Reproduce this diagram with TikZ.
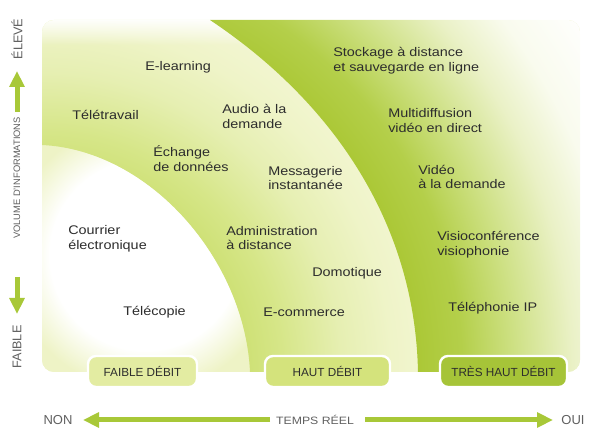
\documentclass[tikz,border=0pt]{standalone}
\usepackage{fontspec}
\setmainfont{Liberation Sans}
\newfontfamily\wide[FakeStretch=1.15]{Liberation Sans}
\usetikzlibrary{arrows.meta,fadings}

% palette
\definecolor{ink}{RGB}{45,45,45}
\definecolor{axisink}{RGB}{95,95,95}
\definecolor{paleyel}{RGB}{238,243,198}
\definecolor{arrowgreen}{RGB}{168,200,56}
\definecolor{tabF}{RGB}{227,236,162}
\definecolor{tabH}{RGB}{212,227,124}
\definecolor{tabT}{RGB}{166,196,56}
% very high bandwidth zone
\definecolor{thA}{RGB}{170,199,52}
\definecolor{thB}{RGB}{180,207,74}
\definecolor{thC}{RGB}{205,224,130}
\definecolor{thD}{RGB}{234,241,198}
\definecolor{thE}{RGB}{249,251,238}
% high bandwidth band
\definecolor{hbA}{RGB}{205,224,115}
\definecolor{hbB}{RGB}{214,230,136}
\definecolor{hbC}{RGB}{230,239,178}
\definecolor{hbD}{RGB}{239,244,200}
\definecolor{hbE}{RGB}{243,246,212}

% radial shadings: the shaded circle's radius corresponds to 25bp
\pgfdeclareradialshading{thdshade}{\pgfpoint{0bp}{0bp}}{%
  color(0bp)=(thA); color(14.25bp)=(thA); color(16.15bp)=(thB);
  color(18.1bp)=(thC); color(20.4bp)=(thD); color(22.3bp)=(thE);
  color(25bp)=(white); color(50bp)=(white)}
\pgfdeclareradialshading{hdshade}{\pgfpoint{0bp}{0bp}}{%
  color(0bp)=(hbA); color(12.5bp)=(hbA); color(15bp)=(hbB);
  color(18.75bp)=(hbC); color(21.9bp)=(hbD); color(25bp)=(hbE);
  color(50bp)=(hbE)}
\pgfdeclareradialshading{blob}{\pgfpoint{0bp}{0bp}}{%
  color(0bp)=(white); color(14bp)=(white); color(20bp)=(paleyel);
  color(50bp)=(paleyel)}

\begin{document}
\begin{tikzpicture}[x=0.75pt,y=-0.75pt,
  lbl/.style={font=\wide\fontsize{9.4pt}{10.9pt}\selectfont, text=ink,
    align=left, anchor=west, inner sep=0pt},
  tabbox/.style={draw=white, line width=1.8pt, rounded corners=6pt,
    minimum height=23.25pt, inner sep=0pt, text=ink,
    font=\fontsize{8.8pt}{10pt}\selectfont},
  axlbl/.style={text=axisink, inner sep=0pt},
  axarrow/.style={draw=arrowgreen, line width=3.75pt,
    -{Triangle[width=11pt,length=12pt,fill=arrowgreen]}}
]
\useasboundingbox (0,0) rectangle (593,434);

% ---- background zones ----
\begin{scope}
  \clip[rounded corners=9pt] (42,20) rectangle (580,372);
  % low bandwidth zone
  \fill[paleyel] (42,20) rectangle (580,372);
  \begin{scope}
    \clip (42,145) .. controls (150,150) and (245,260) .. (250,372)
      -- (42,372) -- cycle;
    \shade[shading=blob] (145,255) circle (170);
  \end{scope}
  % high bandwidth band
  \begin{scope}
    \clip (42,20) -- (210,20) .. controls (330,100) and (415,220) .. (418,372)
      -- (250,372) .. controls (245,260) and (150,150) .. (42,145) -- cycle;
    \shade[shading=hdshade] (42,372) circle (400);
    \fill[white, path fading=south] (42,18) rectangle (420,45);
  \end{scope}
  % very high bandwidth zone
  \begin{scope}
    \clip (210,20) .. controls (330,100) and (415,220) .. (418,372)
      -- (600,372) -- (600,20) -- cycle;
    \shade[shading=thdshade] (42,372) circle (650);
  \end{scope}
\end{scope}

% ---- services ----
\node[lbl] (stock) at (333,60.5) {Stockage à distance\\et sauvegarde en ligne};
\node[lbl] (elearn) at (145,67) {E-learning};
\node[lbl] (teletr) at (72,115) {Télétravail};
\node[lbl] (audio) at (222,116.5) {Audio à la\\demande};
\node[lbl] (multi) at (388,120.5) {Multidiffusion\\vidéo en direct};
\node[lbl] (echange) at (153,158.5) {Échange\\de données};
\node[lbl] (messag) at (268,178) {Messagerie\\instantanée};
\node[lbl] (video) at (418,177) {Vidéo\\à la demande};
\node[lbl] (courrier) at (68,238.5) {Courrier\\électronique};
\node[lbl] (admin) at (226,238) {Administration\\à distance};
\node[lbl] (visio) at (437,244.5) {Visioconférence\\visiophonie};
\node[lbl] (domot) at (312,273) {Domotique};
\node[lbl] (telecop) at (123,312) {Télécopie};
\node[lbl] (ecomm) at (263,312) {E-commerce};
\node[lbl] (telip) at (448,308) {Téléphonie IP};

% ---- zone tabs ----
\node[tabbox, fill=tabF, minimum width=81.75pt] (tabF) at (142.5,371.5) {FAIBLE DÉBIT};
\node[tabbox, fill=tabH, minimum width=93.75pt] (tabH) at (327.5,371.5) {HAUT DÉBIT};
\node[tabbox, fill=tabT, minimum width=95.25pt] (tabT) at (503.5,371.5) {TRÈS HAUT DÉBIT};

% ---- axes ----
\node[axlbl, rotate=90, font=\fontsize{9.5pt}{10pt}\selectfont] (elev) at (17,39) {ÉLEVÉ};
\node[axlbl, rotate=90, font=\fontsize{7pt}{8pt}\selectfont] (vol) at (17,178) {VOLUME D'INFORMATIONS};
\node[axlbl, rotate=90, font=\fontsize{9.5pt}{10pt}\selectfont] (faib) at (17,347) {FAIBLE};
\node[axlbl, font=\fontsize{9.75pt}{10pt}\selectfont] (non) at (58,420) {NON};
\node[axlbl, font=\wide\fontsize{8pt}{10pt}\selectfont] (treel) at (315,420) {TEMPS RÉEL};
\node[axlbl, font=\fontsize{9.75pt}{10pt}\selectfont] (oui) at (573,420) {OUI};

\coordinate (upTail) at (17,112);
\coordinate (upTip) at (17,71);
\coordinate (dnTail) at (17,277);
\coordinate (dnTip) at (17,314);
\coordinate (lTail) at (270,420);
\coordinate (lTip) at (83,420);
\coordinate (rTail) at (365,420);
\coordinate (rTip) at (553,420);

\draw[axarrow] (upTail) -- (upTip);
\draw[axarrow] (dnTail) -- (dnTip);
\draw[axarrow] (lTail) -- (lTip);
\draw[axarrow] (rTail) -- (rTip);
\end{tikzpicture}
\end{document}
